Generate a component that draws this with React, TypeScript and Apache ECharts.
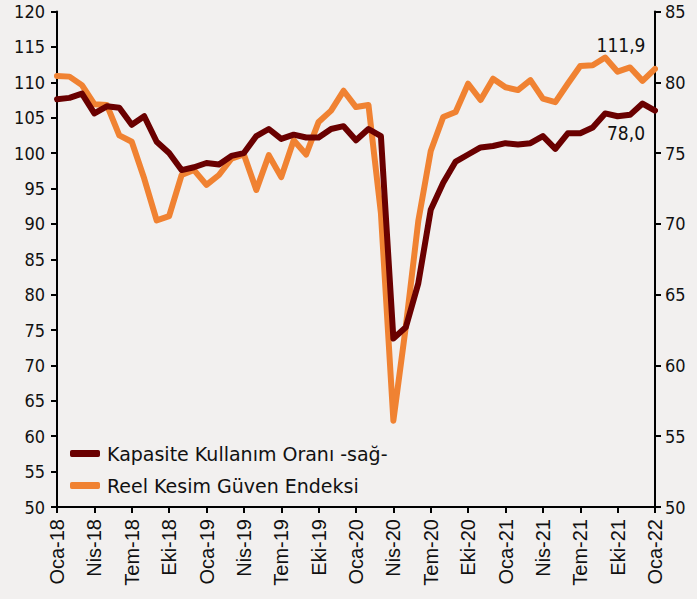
import React, { useEffect, useRef } from "react";
import * as echarts from "echarts";

const monthNames = ["Oca", "Şub", "Mar", "Nis", "May", "Haz", "Tem", "Ağu", "Eyl", "Eki", "Kas", "Ara"];
const years = ["18", "19", "20", "21", "22"];

const rkgeName = "Reel Kesim Güven Endeksi";
const kkoName = "Kapasite Kullanım Oranı -sağ-";

const rkge = [
  110.9, 110.8, 109.6, 106.9, 106.8, 102.5, 101.6, 96.4, 90.5, 91.1, 96.9, 97.6,
  95.5, 96.9, 99.2, 99.8, 94.8, 99.7, 96.6, 101.8, 99.8, 104.4, 106.0, 108.8,
  106.5, 106.8, 91.5, 62.2, 75.5, 90.4, 100.3, 105.1, 105.8, 109.8, 107.5, 110.5,
  109.3, 108.9, 110.3, 107.7, 107.2, 109.8, 112.3, 112.4, 113.5, 111.5, 112.1, 110.2,
  111.9,
];

const kko = [
  78.8, 78.9, 79.2, 77.8, 78.3, 78.2, 77.0, 77.6, 75.8, 75.0, 73.8, 74.0,
  74.3, 74.2, 74.8, 75.0, 76.2, 76.7, 76.0, 76.3, 76.1, 76.1, 76.7, 76.9,
  75.9, 76.7, 76.2, 61.9, 62.7, 65.8, 71.0, 72.9, 74.4, 74.9, 75.4, 75.5,
  75.7, 75.6, 75.7, 76.2, 75.3, 76.4, 76.4, 76.8, 77.8, 77.6, 77.7, 78.5,
  78.0,
];

const categories: string[] = [];
years.forEach((y, yi) => {
  monthNames.forEach((m, mi) => {
    if (yi === years.length - 1 && mi > 0) return;
    categories.push(`${m}-${y}`);
  });
});

const FONT = "DejaVu Sans Condensed, DejaVu Sans, sans-serif";
const LEGEND_FONT = "DejaVu Sans, sans-serif";
const XFONT = "Liberation Sans, Arial, sans-serif";

export default function App() {
  const ref = useRef<HTMLDivElement>(null);
  useEffect(() => {
    document.body.style.margin = "0";
    const chart = echarts.init(ref.current!, undefined, { renderer: "svg" });
    const last = categories.length - 1;
    const fmt = (p: any) => Number(p.value).toFixed(1).replace(".", ",");
    chart.setOption({
      animation: false,
      backgroundColor: "#f2f0ef",
      textStyle: { fontFamily: FONT, color: "#111" },
      grid: { left: 57, right: 42, top: 11.5, bottom: 92, containLabel: false },
      legend: {
        data: [kkoName, rkgeName],
        orient: "vertical",
        left: 65,
        top: 439,
        itemWidth: 30,
        itemHeight: 7,
        itemGap: 13,
        icon: "roundRect",
        textStyle: { fontFamily: LEGEND_FONT, fontSize: 19, color: "#111", padding: [0, 0, 0, 2] },
      },
      xAxis: {
        type: "category",
        data: categories,
        boundaryGap: false,
        axisLine: { lineStyle: { color: "#000", width: 2 } },
        axisTick: { interval: 2, length: 6, lineStyle: { color: "#000", width: 2 } },
        axisLabel: {
          interval: 2,
          rotate: 90,
          margin: 12,
          fontSize: 20,
          fontFamily: XFONT,
          color: "#111",
        },
        splitLine: { show: false },
      },
      yAxis: [
        {
          type: "value",
          min: 50,
          max: 120,
          interval: 5,
          position: "left",
          axisLine: { show: true, lineStyle: { color: "#000", width: 2 } },
          axisTick: { show: true, length: 6, lineStyle: { color: "#000", width: 2 } },
          axisLabel: { fontSize: 18, fontFamily: FONT, color: "#111", margin: 12 },
          splitLine: { show: false },
        },
        {
          type: "value",
          min: 50,
          max: 85,
          interval: 5,
          position: "right",
          axisLine: { show: true, lineStyle: { color: "#000", width: 2 } },
          axisTick: { show: true, length: 6, lineStyle: { color: "#000", width: 2 } },
          axisLabel: { fontSize: 18, fontFamily: FONT, color: "#111", margin: 10 },
          splitLine: { show: false },
        },
      ],
      series: [
        {
          name: rkgeName,
          type: "line",
          yAxisIndex: 0,
          showSymbol: true,
          symbol: "circle",
          symbolSize: 0,
          color: "#f08232",
          lineStyle: { width: 6, color: "#f08232", cap: "round", join: "round" },
          data: rkge.map((v, i) =>
            i === last
              ? {
                  value: v,
                  label: {
                    show: true,
                    position: "top",
                    offset: [-34, -9],
                    formatter: fmt,
                    fontSize: 19,
                    fontFamily: FONT,
                    color: "#111",
                  },
                }
              : v
          ),
          z: 2,
        },
        {
          name: kkoName,
          type: "line",
          yAxisIndex: 1,
          showSymbol: true,
          symbol: "circle",
          symbolSize: 0,
          color: "#6a0000",
          lineStyle: { width: 6, color: "#6a0000", cap: "round", join: "round" },
          data: kko.map((v, i) =>
            i === last
              ? {
                  value: v,
                  label: {
                    show: true,
                    position: "bottom",
                    offset: [-29, 8],
                    formatter: fmt,
                    fontSize: 19,
                    fontFamily: FONT,
                    color: "#111",
                  },
                }
              : v
          ),
          z: 3,
        },
      ],
    });
    return () => chart.dispose();
  }, []);
  return <div ref={ref} style={{ width: 697, height: 599 }} />;
}
